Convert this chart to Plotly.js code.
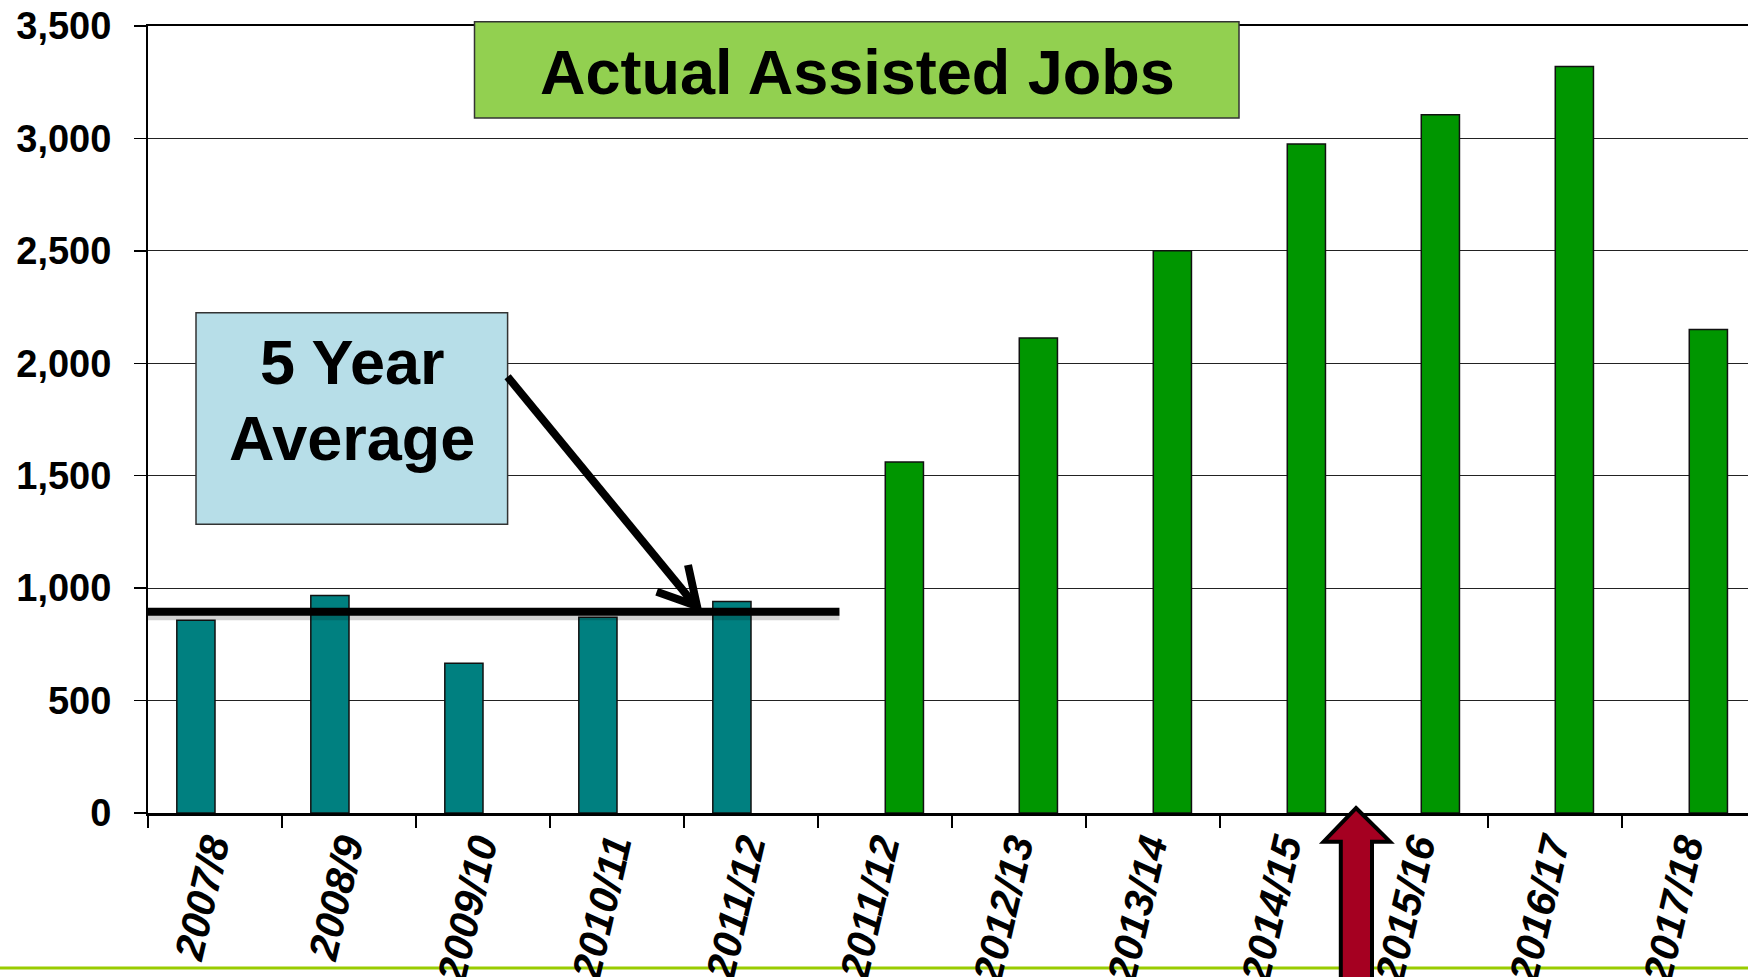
<!DOCTYPE html>
<html>
<head>
<meta charset="utf-8">
<script src="https://cdn.plot.ly/plotly-3.0.1.min.js"></script>
<style>
  html, body { margin: 0; padding: 0; background: #ffffff; }
  #chart { width: 1748px; height: 977px; }
</style>
</head>
<body>
<div id="chart"></div>
<script>
// ---- Data ----
const categories = ["2007/8", "2008/9", "2009/10", "2010/11", "2011/12",
                    "2011/12", "2012/13", "2013/14", "2014/15", "2015/16", "2016/17", "2017/18"];
const previousJobs = [857, 967, 666, 870, 941];          // teal bars (first five years)
const actualJobs = [1561, 2113, 2500, 2975, 3105, 3320, 2150]; // green bars
const fiveYearAverage = 895;
const yTickVals = [0, 500, 1000, 1500, 2000, 2500, 3000, 3500];
const titleText = "Actual Assisted Jobs";
const averageLines = ["5 Year", "Average"];

// positions along the category axis
const catIdx = categories.map((_, i) => i);
const prevX = previousJobs.map((_, i) => i);
const actualX = actualJobs.map((_, i) => i + previousJobs.length);

// ---- Geometry helpers (pixels -> paper) ----
const W = 1748, H = 977;
const M = { l: 148, r: 0, t: 26, b: 164 };
const PW = W - M.l - M.r, PH = H - M.t - M.b;
const catPx = 134;
const px = x => (x - M.l) / PW;
const py = y => (H - M.b - y) / PH;

const FONT = "Liberation Sans, Arial, Helvetica, sans-serif";

const traces = [
  {
    type: "bar", x: prevX, y: previousJobs,
    width: 0.285, offset: -0.285,
    marker: { color: "#008080", line: { color: "#111", width: 1.5 } },
    hoverinfo: "skip"
  },
  {
    type: "bar", x: actualX, y: actualJobs,
    width: 0.285, offset: 0.002,
    marker: { color: "#009600", line: { color: "#111", width: 1.5 } },
    hoverinfo: "skip"
  }
];

const shapes = [
  // lime slide rule near bottom
  { type: "line", xref: "paper", yref: "paper", layer: "below",
    x0: px(0), x1: px(W), y0: py(968), y1: py(968),
    line: { color: "#99cc00", width: 3 } },
  // average line shadow
  { type: "line", xref: "x", yref: "y", layer: "above",
    x0: -0.5, x1: 4.66, y0: fiveYearAverage - 16, y1: fiveYearAverage - 16,
    line: { color: "rgba(0,0,0,0.18)", width: 10 } },
  // average line
  { type: "line", xref: "x", yref: "y", layer: "above",
    x0: -0.5, x1: 4.66, y0: fiveYearAverage, y1: fiveYearAverage,
    line: { color: "#000", width: 8 } },
  // title box
  { type: "rect", xref: "paper", yref: "paper", layer: "above",
    x0: px(474.5), x1: px(1239), y0: py(118), y1: py(21.7),
    fillcolor: "#92d050", line: { color: "#333", width: 1.5 } },
  // 5 year average box
  { type: "rect", xref: "paper", yref: "paper", layer: "above",
    x0: px(196), x1: px(507.6), y0: py(524.3), y1: py(312.7),
    fillcolor: "#b7dee8", line: { color: "#333", width: 1.5 } },
  // black pointer arrow shaft
  { type: "path", xref: "paper", yref: "paper", layer: "above",
    path: `M ${px(507.6)} ${py(376.7)} L ${px(695)} ${py(605)}`,
    line: { color: "#000", width: 8 } },
  // black pointer arrow head
  { type: "path", xref: "paper", yref: "paper", layer: "above",
    path: `M ${px(688)} ${py(565)} L ${px(697)} ${py(606)} L ${px(656.7)} ${py(591.7)}`,
    line: { color: "#000", width: 8 } },
  // red up arrow
  { type: "path", xref: "paper", yref: "paper", layer: "above",
    path: `M ${px(1356)} ${py(808)} L ${px(1390)} ${py(841.7)} L ${px(1372)} ${py(841.7)} L ${px(1372)} ${py(995)} L ${px(1340.8)} ${py(995)} L ${px(1340.8)} ${py(841.7)} L ${px(1323.6)} ${py(841.7)} Z`,
    fillcolor: "#a50021", line: { color: "#000", width: 4 } }
];

const boxFont = { family: FONT, size: 63, color: "#000", weight: "bold" };
const annotations = [
  { xref: "paper", yref: "paper", x: px(857), y: py(72), xanchor: "center", yanchor: "middle",
    text: titleText, showarrow: false, font: boxFont },
  { xref: "paper", yref: "paper", x: px(352), y: py(362), xanchor: "center", yanchor: "middle",
    text: averageLines[0], showarrow: false, font: boxFont },
  { xref: "paper", yref: "paper", x: px(352), y: py(438), xanchor: "center", yanchor: "middle",
    text: averageLines[1], showarrow: false, font: boxFont }
];

const layout = {
  width: W, height: H,
  margin: M,
  paper_bgcolor: "#ffffff", plot_bgcolor: "#ffffff",
  showlegend: false,
  hovermode: false,
  barmode: "overlay",
  font: { family: FONT, color: "#000" },
  xaxis: {
    range: [-0.5, -0.5 + PW / catPx],
    tickmode: "array", tickvals: catIdx, ticktext: categories,
    ticks: "", tickangle: -77,
    tickfont: { family: FONT, size: 41, color: "#000", weight: "bold", style: "italic" },
    ticklabelstandoff: -9,
    ticklabelshift: -5,
    showline: true, linecolor: "#000", linewidth: 2.5, mirror: true,
    showgrid: false, zeroline: false,
    minor: { tickmode: "array", tickvals: catIdx.concat([catIdx.length]).map(i => i - 0.5),
             ticks: "outside", ticklen: 12, tickwidth: 1.5, tickcolor: "#000", showgrid: false }
  },
  yaxis: {
    range: [0, 3500],
    tickmode: "array", tickvals: yTickVals,
    tickformat: ",d",
    ticks: "outside", ticklen: 12, tickwidth: 1.5, tickcolor: "#000",
    tickfont: { family: FONT, size: 38, color: "#000", weight: "bold" },
    ticklabelstandoff: 15,
    showline: true, linecolor: "#000", linewidth: 2,
    showgrid: true, gridcolor: "#222", gridwidth: 1,
    zeroline: false
  },
  shapes: shapes,
  annotations: annotations
};

Plotly.newPlot("chart", traces, layout, { displayModeBar: false, staticPlot: true });
</script>
</body>
</html>
